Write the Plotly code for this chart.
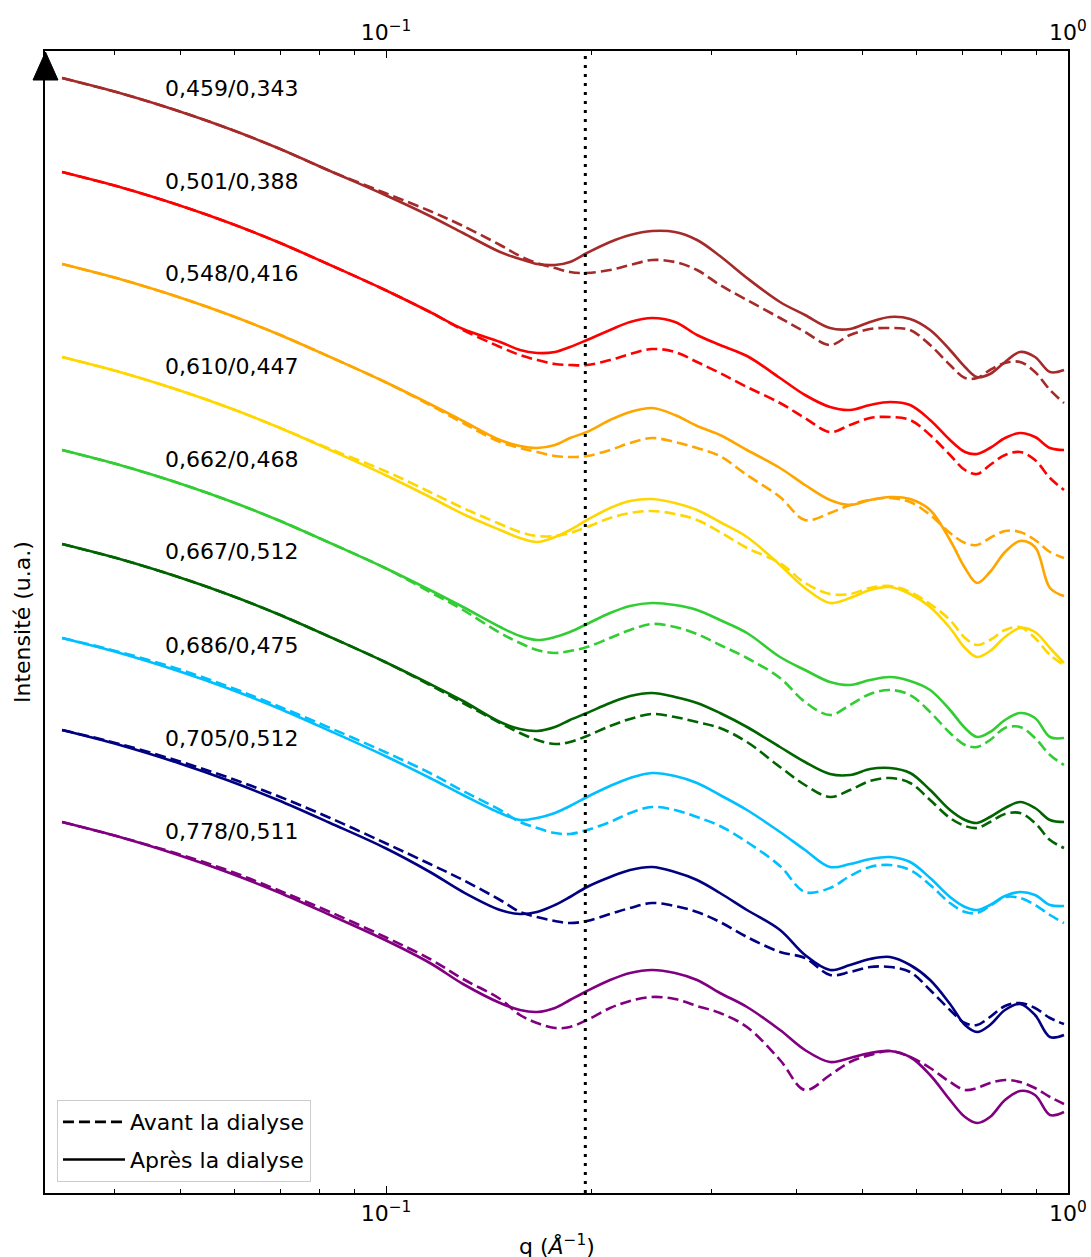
import plotly.graph_objects as go

# Scattering vector grid (Å^-1)
q = [0.0335, 0.0407, 0.0496, 0.0590, 0.0694, 0.0828, 0.0997, 0.1160, 0.1297, 0.1470,
     0.1572, 0.1665, 0.1769, 0.1861, 0.1971, 0.2131, 0.2280, 0.2455, 0.2653, 0.2858,
     0.3088, 0.3383, 0.3782, 0.4115, 0.4478, 0.4790, 0.5125, 0.5483, 0.5868, 0.6278,
     0.6714, 0.7063, 0.7355, 0.7685, 0.8084, 0.8505, 0.8946, 0.9410, 0.9866]

# Sample labels (ratios)
labels = ["0,459/0,343", "0,501/0,388", "0,548/0,416", "0,610/0,447", "0,662/0,468",
          "0,667/0,512", "0,686/0,475", "0,705/0,512", "0,778/0,511"]
label_y = [1112, 1019, 927, 834, 741, 649, 555, 462, 369]

colors = ["#a52a2a", "#ff0000", "#ffa500", "#ffd700", "#32cd32",
          "#006400", "#00bfff", "#000080", "#800080"]

# Shifted intensities (u.a.), before dialysis (dashed) and after (solid)
brown_before = [1122, 1107, 1089, 1071, 1052, 1029, 1007, 989, 974, 955,
                944, 937, 932, 928, 927, 930, 935, 940, 938, 930, 915, 900, 882, 868, 855, 865, 871, 872, 870, 855, 835, 822, 822, 830, 837, 838, 828, 810, 797]
brown_after = [1122, 1107, 1089, 1071, 1052, 1029, 1005, 984, 967, 948,
               941, 936, 935, 938, 947, 958, 965, 969, 968, 960, 944, 922, 898, 885, 872, 871, 878, 883, 881, 870, 850, 833, 823, 826, 838, 848, 843, 828, 830]
red_before = [1028, 1013, 995, 977, 958, 935, 910, 888, 870, 853,
              845, 840, 836, 835, 835, 840, 846, 851, 848, 838, 827, 813, 797, 782, 768, 775, 782, 783, 780, 765, 745, 730, 726, 735, 745, 748, 740, 722, 710]
red_after = [1028, 1013, 995, 977, 958, 935, 910, 888, 871, 858,
             850, 847, 848, 853, 860, 870, 878, 882, 878, 865, 855, 844, 822, 805, 793, 790, 795, 798, 795, 780, 760, 748, 746, 752, 762, 767, 763, 752, 750]
orange_before = [936, 921, 903, 885, 866, 843, 818, 795, 777, 758,
                 752, 748, 744, 743, 744, 750, 757, 762, 758, 752, 744, 725, 703, 680, 687, 695, 700, 702, 698, 685, 667, 657, 655, 662, 669, 668, 660, 648, 642]
orange_after = [936, 921, 903, 885, 866, 843, 818, 796, 779, 760,
                754, 752, 755, 762, 768, 780, 788, 792, 785, 774, 765, 750, 732, 715, 700, 695, 700, 703, 701, 690, 660, 632, 617, 628, 648, 659, 653, 612, 604]
gold_before = [843, 828, 810, 792, 773, 751, 729, 708, 692, 676,
               668, 664, 664, 667, 673, 682, 687, 689, 686, 680, 668, 652, 637, 617, 606, 606, 612, 614, 608, 596, 580, 562, 555, 560, 570, 573, 562, 545, 535]
gold_after = [843, 828, 810, 792, 773, 750, 725, 703, 686, 670,
              662, 658, 663, 670, 680, 692, 699, 701, 697, 690, 678, 663, 635, 612, 597, 602, 610, 613, 606, 593, 572, 552, 543, 549, 563, 572, 568, 552, 537]
lime_before = [750, 735, 717, 699, 680, 657, 632, 608, 590, 567,
               557, 550, 547, 549, 553, 562, 570, 576, 573, 566, 555, 542, 522, 498, 485, 495, 506, 510, 505, 488, 467, 455, 453, 460, 472, 473, 462, 445, 435]
lime_after = [750, 735, 717, 699, 680, 657, 632, 610, 593, 573,
              564, 560, 563, 568, 576, 587, 594, 597, 595, 590, 580, 567, 543, 530, 518, 515, 520, 523, 519, 510, 490, 472, 463, 468, 480, 487, 482, 463, 462]
dkgreen_before = [656, 641, 623, 605, 586, 563, 538, 515, 497, 477,
                  467, 460, 456, 458, 464, 474, 481, 486, 483, 478, 472, 458, 433, 415, 403, 410, 419, 422, 417, 400, 382, 374, 372, 378, 386, 387, 377, 360, 352]
dkgreen_after = [656, 641, 623, 605, 586, 563, 538, 516, 499, 478,
                 471, 469, 473, 480, 487, 497, 504, 507, 503, 497, 487, 473, 453, 438, 426, 425, 431, 432, 427, 410, 390, 380, 377, 383, 392, 398, 392, 380, 378]
sky_before = [562, 548, 531, 513, 494, 472, 448, 427, 409, 390,
              378, 372, 367, 366, 370, 378, 387, 393, 390, 383, 374, 358, 334, 308, 312, 324, 333, 335, 330, 315, 297, 288, 287, 294, 303, 302, 295, 285, 277]
sky_after = [562, 547, 529, 511, 492, 469, 444, 422, 405, 387,
             380, 382, 387, 394, 403, 414, 422, 427, 424, 417, 405, 390, 368, 350, 333, 336, 341, 343, 338, 322, 303, 293, 290, 295, 304, 308, 305, 295, 294]
navy_before = [470, 456, 439, 422, 404, 382, 357, 336, 320, 300,
               288, 283, 279, 277, 279, 286, 292, 297, 294, 288, 278, 263, 248, 242, 225, 228, 233, 233, 228, 210, 190, 177, 175, 183, 194, 197, 192, 182, 176]
navy_after = [470, 455, 437, 419, 400, 377, 352, 328, 308, 290,
              286, 288, 295, 303, 313, 323, 330, 333, 328, 320, 307, 290, 270, 245, 230, 235, 241, 243, 235, 220, 196, 175, 168, 175, 190, 196, 185, 163, 165]
purple_before = [378, 363, 346, 329, 310, 288, 263, 241, 221, 201,
                 185, 177, 172, 173, 180, 192, 199, 203, 201, 194, 187, 173, 140, 110, 125, 138, 145, 149, 143, 132, 118, 110, 112, 117, 120, 118, 112, 103, 96]
purple_after = [378, 363, 345, 327, 308, 285, 260, 237, 216, 197,
                190, 188, 192, 200, 209, 220, 227, 230, 227, 220, 207, 193, 170, 150, 138, 142, 147, 149, 143, 125, 100, 83, 77, 83, 100, 109, 105, 85, 88]

before = [brown_before, red_before, orange_before, gold_before, lime_before,
          dkgreen_before, sky_before, navy_before, purple_before]
after = [brown_after, red_after, orange_after, gold_after, lime_after,
         dkgreen_after, sky_after, navy_after, purple_after]

q_mark = 0.196          # vertical reference position
y_range = [7, 1149]
font_family = "DejaVu Sans"
dash_pattern = "11px,5px"

fig = go.Figure()

for col, yb, ya in zip(colors, before, after):
    fig.add_trace(go.Scatter(x=q, y=yb, mode="lines", showlegend=False, hoverinfo="skip",
                             line=dict(color=col, width=2.6, dash=dash_pattern, shape="spline", smoothing=1.0)))
    fig.add_trace(go.Scatter(x=q, y=ya, mode="lines", showlegend=False, hoverinfo="skip",
                             line=dict(color=col, width=2.6, shape="spline", smoothing=1.0)))

# vertical dotted marker
fig.add_trace(go.Scatter(x=[q_mark, q_mark], y=y_range, mode="lines", showlegend=False,
                         hoverinfo="skip", line=dict(color="black", width=3, dash="3px,6px")))

# top axis carrier
fig.add_trace(go.Scatter(x=[q_mark], y=[y_range[0]], xaxis="x2", mode="markers",
                         marker=dict(opacity=0), showlegend=False, hoverinfo="skip"))

# legend entries
fig.add_trace(go.Scatter(x=[None], y=[None], mode="lines", name="Avant la dialyse",
                         line=dict(color="black", width=2.6, dash=dash_pattern), legendgroup="a"))
fig.add_trace(go.Scatter(x=[None], y=[None], mode="lines", name="Après la dialyse",
                         line=dict(color="black", width=2.6), legendgroup="b"))

for txt, yv in zip(labels, label_y):
    fig.add_annotation(x=0.1153, xref="paper", y=yv, yref="y", text=txt, showarrow=False,
                       xanchor="left", yanchor="middle", font=dict(size=22, color="black", family=font_family))

minor_vals = [0.04, 0.05, 0.06, 0.07, 0.08, 0.09, 0.2, 0.3, 0.4, 0.5, 0.6, 0.7, 0.8, 0.9]
axis_common = dict(type="log", range=[-1.5, 0], tickvals=[0.1, 1],
                   ticktext=["10<sup>−1</sup>", "10<sup>0</sup>"],
                   ticks="inside", ticklen=7, tickwidth=1.2, tickcolor="black",
                   showgrid=False, zeroline=False, showline=True, linecolor="black", linewidth=1.6,
                   automargin=False,
                   tickfont=dict(size=22, color="black", family=font_family),
                   minor=dict(tickvals=minor_vals, ticks="inside", ticklen=4, tickwidth=1, tickcolor="black",
                              showgrid=False))

fig.update_layout(
    width=1091, height=1257,
    margin=dict(l=45, r=23, t=51, b=64, autoexpand=False),
    paper_bgcolor="white", plot_bgcolor="white",
    font=dict(family=font_family, size=22, color="black"),
    xaxis=dict(**axis_common, side="bottom", mirror=False),
    xaxis2=dict(**axis_common, side="top", overlaying="x", anchor="y"),
    yaxis=dict(range=y_range, showticklabels=False, ticks="", showgrid=False, zeroline=False,
               showline=True, linecolor="black", linewidth=1.6, mirror=True, automargin=False),
    legend=dict(x=0.0117, y=0.0096, xanchor="left", yanchor="bottom", bgcolor="white",
                bordercolor="#cccccc", borderwidth=1, font=dict(size=22, family=font_family),
                tracegroupgap=6, itemwidth=62),
)

# axis titles
fig.add_annotation(x=0.5, xref="paper", y=-0.0455, yref="paper", showarrow=False,
                   text="q (<i>Å</i><sup>−1</sup>)", xanchor="center", yanchor="middle",
                   font=dict(size=22, family=font_family))
fig.add_annotation(x=-0.0225, xref="paper", y=0.5, yref="paper", showarrow=False,
                   text="Intensité (u.a.)", textangle=-90, xanchor="center", yanchor="middle",
                   font=dict(size=22, family=font_family))

# arrowhead on the intensity axis
fig.add_shape(type="path", xref="paper", yref="paper",
              path="M 0.0005,0.9991 L -0.0117,0.9746 L 0.0127,0.9746 Z",
              fillcolor="black", line=dict(color="black", width=1))

fig.write_html("out.html")
